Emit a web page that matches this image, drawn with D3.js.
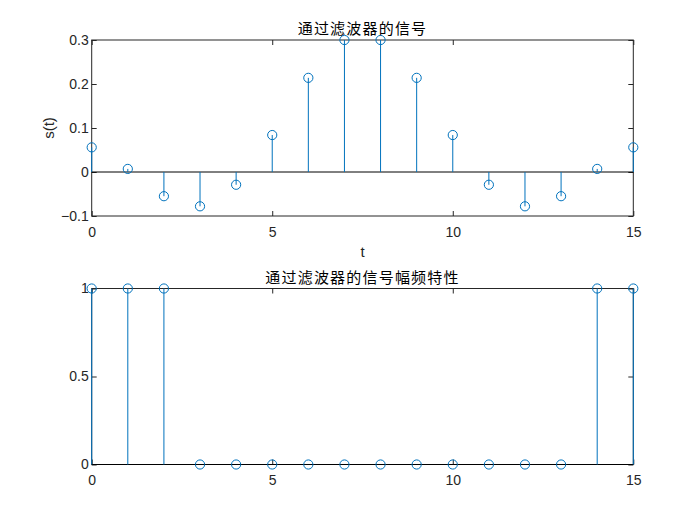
<!DOCTYPE html>
<html><head><meta charset="utf-8">
<script src="https://cdn.jsdelivr.net/npm/d3@7"></script>
<style>body{margin:0;background:#fff}svg{display:block}</style>
</head><body>
<script>
const tIdx = d3.range(16);
const sigValues = [0.056, 0.007, -0.055, -0.078, -0.029, 0.084, 0.214, 0.3, 0.3, 0.214, 0.084, -0.029, -0.078, -0.055, 0.007, 0.056];
const magValues = [1, 1, 1, 0, 0, 0, 0, 0, 0, 0, 0, 0, 0, 0, 1, 1];
const xTicks = [0, 5, 10, 15];
const yTicksTop = [-0.1, 0, 0.1, 0.2, 0.3];
const yTicksBot = [0, 0.5, 1];
const title1 = "通过滤波器的信号";
const title2 = "通过滤波器的信号幅频特性";
const xLabel1 = "t";
const yLabel1 = "s(t)";

const W = 700, H = 525;
const stemColor = "#0072BD", axColor = "#262626";
const svg = d3.select("body").append("svg").attr("width", W).attr("height", H);
const numFont = "'Liberation Sans', Arial, sans-serif";
const cjkFont = "'Noto Sans CJK SC', sans-serif";

function panel(opts) {
  const {top, bottom, left, right, yDomain, yTicks, values, title, xlabel, ylabel, fmt} = opts;
  const x = d3.scaleLinear().domain([0, 15]).range([left, right]);
  const y = d3.scaleLinear().domain(yDomain).range([bottom, top]);
  const g = svg.append("g");
  const tl = 5;
  // axes via d3
  const axB = g.append("g").attr("transform", `translate(0,${bottom})`)
    .call(d3.axisBottom(x).tickValues(xTicks).tickSize(-tl).tickPadding(12).tickFormat(d3.format("d")));
  const axT = g.append("g").attr("transform", `translate(0,${top})`)
    .call(d3.axisTop(x).tickValues(xTicks).tickSize(-tl).tickFormat(""));
  const axL = g.append("g").attr("transform", `translate(${left},0)`)
    .call(d3.axisLeft(y).tickValues(yTicks).tickSize(-tl).tickPadding(4).tickFormat(fmt));
  const axR = g.append("g").attr("transform", `translate(${right},0)`)
    .call(d3.axisRight(y).tickValues(yTicks).tickSize(-tl).tickFormat(""));
  [axB, axT, axL, axR].forEach(a => {
    a.select(".domain").attr("stroke", axColor).attr("stroke-width", 1);
    a.selectAll(".tick line").attr("stroke", axColor);
    a.selectAll("text").attr("fill", axColor).style("font-family", numFont).style("font-size", "14px");
  });
  axB.selectAll(".tick text").attr("dy", "0.71em").attr("y", 11);
  axL.selectAll(".tick text").attr("x", -3);
  // remove tick ends from domain paths (outer ticks)
  [axB, axT, axL, axR].forEach(a => a.select(".domain").attr("d", null));
  g.append("rect").attr("x", left).attr("y", top).attr("width", right - left).attr("height", bottom - top)
    .attr("fill", "none").attr("stroke", axColor).attr("stroke-width", 1);
  // baseline
  g.append("line").attr("x1", x(0)).attr("x2", x(15)).attr("y1", y(0)).attr("y2", y(0))
    .attr("stroke", "#000").attr("stroke-width", 1);
  // stems
  g.selectAll(".stem").data(tIdx).enter().append("line")
    .attr("x1", d => x(d)).attr("x2", d => x(d))
    .attr("y1", y(0)).attr("y2", d => y(values[d]))
    .attr("stroke", stemColor).attr("stroke-width", 1);
  g.selectAll(".mk").data(tIdx).enter().append("circle")
    .attr("cx", d => x(d)).attr("cy", d => y(values[d])).attr("r", 4.6)
    .attr("fill", "none").attr("stroke", stemColor).attr("stroke-width", 1);
  // title
  g.append("text").attr("x", (left + right) / 2).attr("y", top - 6)
    .attr("text-anchor", "middle").style("font-family", cjkFont).style("font-size", "15px")
    .style("letter-spacing", "1.2px").attr("fill", "#000").text(title);
  if (xlabel) g.append("text").attr("x", (left + right) / 2).attr("y", bottom + 41)
    .attr("text-anchor", "middle").style("font-family", numFont).style("font-size", "15px")
    .attr("fill", axColor).text(xlabel);
  if (ylabel) g.append("text").attr("transform", `translate(${left - 38},${(top + bottom) / 2}) rotate(-90)`)
    .attr("text-anchor", "middle").style("font-family", numFont).style("font-size", "15px")
    .attr("fill", axColor).text(ylabel);
}

panel({top: 40, bottom: 216, left: 91.7, right: 633.3, yDomain: [-0.1, 0.3], yTicks: yTicksTop,
  values: sigValues, title: title1, xlabel: xLabel1, ylabel: yLabel1, fmt: d => d === 0 ? "0" : d3.format(".1f")(d)});
panel({top: 288.5, bottom: 464.5, left: 91.7, right: 633.3, yDomain: [0, 1], yTicks: yTicksBot,
  values: magValues, title: title2, fmt: d => d === 0 ? "0" : (d === 1 ? "1" : d3.format(".1f")(d))});
</script>
</body></html>
